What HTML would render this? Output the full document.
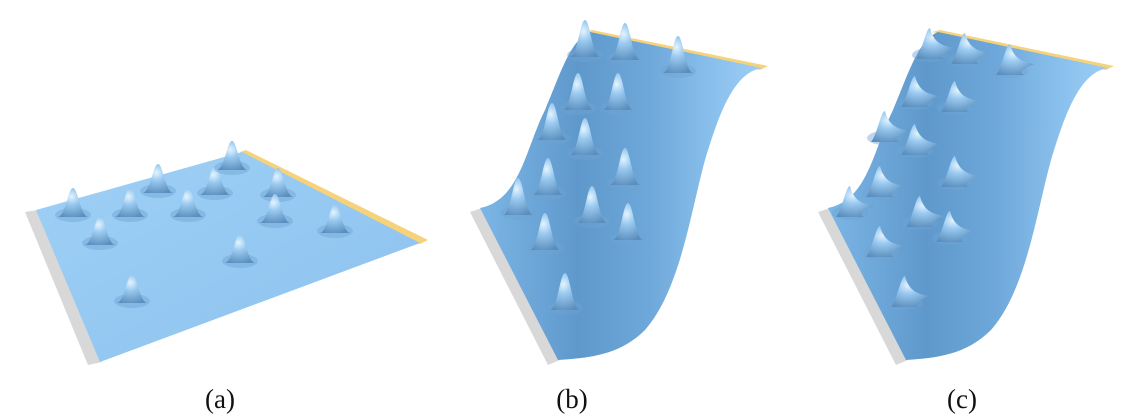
<!DOCTYPE html>
<html><head><meta charset="utf-8"><style>
html,body{margin:0;padding:0;background:#fff;}
svg{display:block}
text{font-family:"Liberation Serif",serif;font-size:27px;fill:#111}
</style></head><body>
<svg id="fig" width="1128" height="420" viewBox="0 0 1128 420" xmlns="http://www.w3.org/2000/svg">
<defs>
  <linearGradient id="flat" x1="0" y1="0" x2="1" y2="1">
    <stop offset="0" stop-color="#9fd0f6"/><stop offset="1" stop-color="#8cc2ee"/>
  </linearGradient>
  <linearGradient id="sheet" x1="0" y1="0" x2="1" y2="0">
    <stop offset="0" stop-color="#7cb6e6"/><stop offset="0.35" stop-color="#5f98cb"/>
    <stop offset="0.6" stop-color="#6ea8da"/><stop offset="0.85" stop-color="#8cc2ee"/><stop offset="1" stop-color="#9dcdf4"/>
  </linearGradient>
  <radialGradient id="bump" cx="0.45" cy="0.3" r="0.75">
    <stop offset="0" stop-color="#e4f4fe"/><stop offset="0.35" stop-color="#9ccbf1"/><stop offset="1" stop-color="#5a8ebd"/>
  </radialGradient>
</defs>
<g>
  <polygon points="25,212 38,210 102,362 88,365" fill="#d8d8d8"/>
  <polygon points="240,152 246,150 428,240 420,244" fill="#f6d27a"/>
  <polygon points="36,210 242,152 420,243 100,362" fill="url(#flat)"/>
</g>
<g>
  <path d="M470,212 L482,208 L560,360 L548,365 Z" fill="#d8d8d8"/>
  <path d="M584,32 L592,30 L768,66 L760,70 Z" fill="#f6d27a"/>
  <path d="M480,208 C520,200 525,150 545,110 C560,75 570,40 590,32 L762,68 C735,72 720,110 705,160 C690,215 680,290 645,330 C620,355 590,358 558,360 Z" fill="url(#sheet)"/>
</g>
<g>
  <path d="M818,212 L830,208 L908,360 L896,365 Z" fill="#d8d8d8"/>
  <path d="M932,32 L940,30 L1114,66 L1106,70 Z" fill="#f6d27a"/>
  <path d="M828,208 C868,200 873,150 893,110 C908,75 918,40 938,32 L1108,68 C1081,72 1066,110 1051,160 C1036,215 1026,290 991,330 C966,355 936,358 906,360 Z" fill="url(#sheet)"/>
</g>
<g id="bumps"></g>
<text x="220" y="408" text-anchor="middle">(a)</text>
<text x="572" y="408" text-anchor="middle">(b)</text>
<text x="962" y="408" text-anchor="middle">(c)</text>
</svg>
<script>
const bumpsA_x=[73,100,130,158,188,215,232,278,335,132,240,275];
const bumpsA_y=[212,240,212,188,212,190,165,192,228,298,258,218];
const bumpsB_x=[585,625,678,578,618,552,585,625,548,592,628,518,545,565];
const bumpsB_y=[52,55,68,105,105,135,150,180,190,218,235,210,245,305];
const bumpsC_x=[930,965,1010,915,955,885,915,955,880,920,950,850,880,905];
const bumpsC_y=[52,57,68,100,105,135,148,180,190,220,235,210,250,300];
const g=document.getElementById('bumps');
const NS='http://www.w3.org/2000/svg';
function drawBumps(xs,ys,name,h,spike){
  for(let i=0;i<xs.length;i++){
    const x=xs[i],y=ys[i];
    const e=document.createElementNS(NS,'ellipse');
    
    
    e.setAttribute('cx',x);e.setAttribute('cy',y+3);e.setAttribute('rx',18);e.setAttribute('ry',7);
    e.setAttribute('fill','#6fa5d3');e.setAttribute('opacity','0.45');
    g.appendChild(e);
    const p=document.createElementNS(NS,'path');
    
    
    let d='M'+(x-15)+','+(y+5)+' C'+(x-7)+','+(y+3)+' '+(x-5)+','+(y-h)+' '+x+','+(y-h)+' C'+(x+5)+','+(y-h)+' '+(x+7)+','+(y+3)+' '+(x+15)+','+(y+5)+' Z';
    if(spike) d='M'+(x-14)+','+(y+7)+' C'+(x-8)+','+(y)+' '+(x-4)+','+(y-h)+' '+x+','+(y-h)+' C'+(x+4)+','+(y-8)+' '+(x+14)+','+(y-6)+' '+(x+24)+','+(y-4)+' C'+(x+14)+','+(y)+' '+(x+8)+','+(y+5)+' '+(x+14)+','+(y+7)+' Z';
    p.setAttribute('d',d);
    p.setAttribute('fill','url(#bump)');
    g.appendChild(p);
  }
}
drawBumps(bumpsA_x,bumpsA_y,'bump-a',24,false);
drawBumps(bumpsB_x,bumpsB_y,'bump-b',32,false);
drawBumps(bumpsC_x,bumpsC_y,'bump-c',24,true);
</script>
</body></html>
